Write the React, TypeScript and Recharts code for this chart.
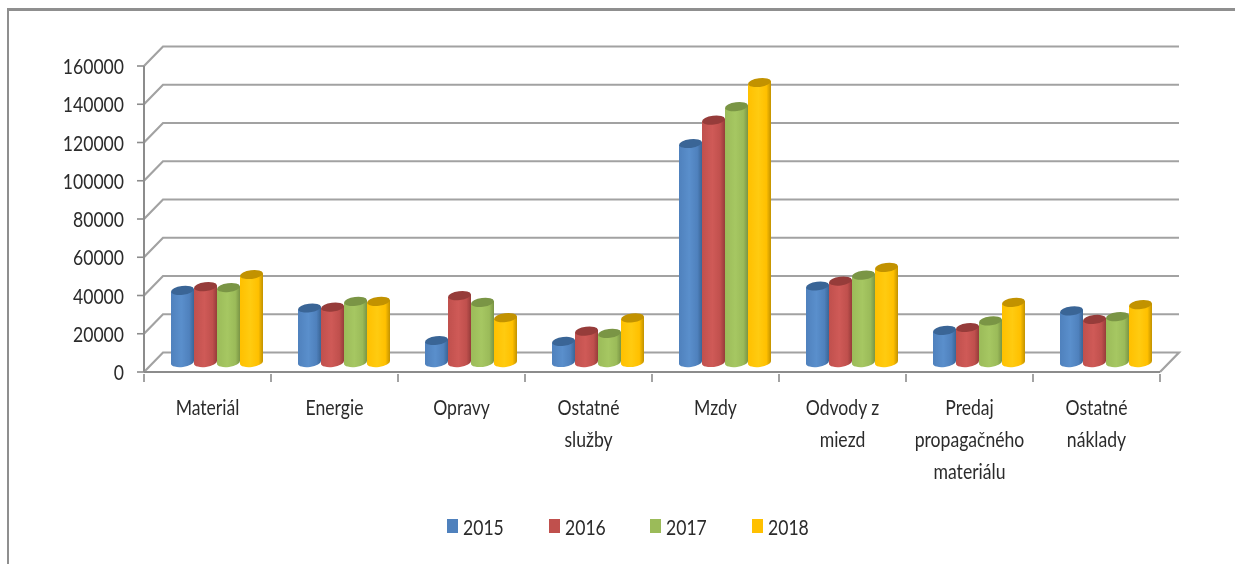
import React from "react";
import { BarChart, Bar, XAxis, YAxis, CartesianGrid, Legend } from "recharts";

const categories = ["Materiál", "Energie", "Opravy", "Ostatné služby", "Mzdy", "Odvody z miezd", "Predaj propagačného materiálu", "Ostatné náklady"];
const categoryLines = [["Materiál"], ["Energie"], ["Opravy"], ["Ostatné", "služby"], ["Mzdy"], ["Odvody z", "miezd"], ["Predaj", "propagačného", "materiálu"], ["Ostatné", "náklady"]];
const values2015 = [37700, 28500, 11500, 11000, 114500, 40000, 16800, 27000];
const values2016 = [39700, 29000, 35000, 16400, 126700, 42600, 18300, 22500];
const values2017 = [39200, 32000, 31400, 15200, 133800, 45700, 21800, 24000];
const values2018 = [46000, 32000, 23500, 23300, 146400, 49700, 31400, 30300];
const yTicks = [0, 20000, 40000, 60000, 80000, 100000, 120000, 140000, 160000];
const seriesNames = ["2015", "2016", "2017", "2018"];
const seriesColors = ["#4F81BD", "#C0504D", "#9BBB59", "#FFC000"];
const edgeColors = ["#3A6596", "#963C3A", "#7A9545", "#C29200"];
const lightColors = ["#5A8FCC", "#CF5A57", "#A6C762", "#FFCB10"];

const rows = categories.map((name, i) => ({
  name,
  s2015: values2015[i],
  s2016: values2016[i],
  s2017: values2017[i],
  s2018: values2018[i],
}));

const FONT = 'Lato, "Liberation Sans", sans-serif';
const TEXT = "#2b2b2b";
const AXIS = "#8c8c8c";
const GRID = "#a2a2a2";
const DX = 19;
const DY = -19.5;
const BAR_DX = 9;
const BAR_DY = -9.5;
const PLOT_W = 1016;
const CAT_W = PLOT_W / categories.length;
const SQUEEZE = 0.8;

function Cylinder(props: any) {
  const { x, y, width, height, index } = props;
  const si = props.seriesIndex;
  if (height == null || height <= 0) return null;
  const l = x + BAR_DX;
  const r = l + width;
  const t = y + BAR_DY;
  const b = t + height;
  const rx = width / 2;
  const ry = 4.4;
  const tilt = 1.4;
  const body = `M${l},${t + tilt} L${l},${b + tilt} A${rx},${ry} -7 0 0 ${r},${b - tilt} L${r},${t - tilt} Z`;
  return (
    <g key={index}>
      <path d={body} fill={`url(#cyl${si})`} />
      <ellipse cx={l + rx} cy={t} rx={rx} ry={ry} fill={edgeColors[si]} transform={`rotate(-7 ${l + rx} ${t})`} />
    </g>
  );
}

function SqueezedText({ x, y, anchor, size, children }: any) {
  return (
    <g transform={`translate(${x} ${y}) scale(${SQUEEZE} 1)`}>
      <text x={0} y={0} textAnchor={anchor} fontFamily={FONT} fontSize={size} fill={TEXT}>
        {children}
      </text>
    </g>
  );
}

function XTick(props: any) {
  const { x, y, index, payload } = props;
  const lines = categoryLines[index] ?? [payload.value];
  const axisY = y - 8;
  return (
    <g>
      <line x1={x - CAT_W / 2} x2={x - CAT_W / 2} y1={axisY} y2={axisY + 8} stroke={AXIS} strokeWidth={1.6} />
      {index === categories.length - 1 && (
        <line x1={x + CAT_W / 2} x2={x + CAT_W / 2} y1={axisY} y2={axisY + 8} stroke={AXIS} strokeWidth={1.6} />
      )}
      {lines.map((ln: string, i: number) => (
        <SqueezedText key={ln} x={x} y={axisY + 41 + i * 32} anchor="middle" size={22}>
          {ln}
        </SqueezedText>
      ))}
    </g>
  );
}

function YTick(props: any) {
  const { x, y, payload } = props;
  return (
    <SqueezedText x={x - 11} y={y + 8} anchor="end" size={22}>
      {payload.value}
    </SqueezedText>
  );
}

function WallLine(props: any) {
  const { x1, x2, y1 } = props;
  const isFloor = Math.abs(y1 - 364) < 1;
  const d = `M${x1},${y1} L${x1 + DX},${y1 + DY} L${x2 + DX},${y1 + DY}` + (isFloor ? ` L${x2},${y1}` : "");
  return <path key={`w${y1}`} d={d} fill="none" stroke={GRID} strokeWidth={2.2} />;
}

function LegendBox() {
  return (
    <div style={{ position: "relative", width: 420, height: 30 }}>
      {seriesNames.map((n, i) => (
        <div key={n} style={{ position: "absolute", left: i * 101.7, top: 0, display: "flex", alignItems: "center", height: 30 }}>
          <span style={{ width: 11, height: 14, background: seriesColors[i], display: "inline-block", marginRight: 5 }} />
          <span style={{ fontFamily: FONT, fontSize: 22, color: TEXT, display: "inline-block", transform: `scaleX(${SQUEEZE})`, transformOrigin: "left center" }}>{n}</span>
        </div>
      ))}
    </div>
  );
}

export default function App() {
  return (
    <>
      <div style={{ position: "fixed", left: 7, top: 8, width: 2, height: 556, background: "#8f8f8f" }} />
      <div style={{ position: "fixed", left: 7, top: 8, width: 1228, height: 2.5, background: "#8f8f8f" }} />
      <div style={{ position: "relative", width: 1227, height: 556, overflow: "hidden", filter: "blur(0.35px)" }}>
        <BarChart
          width={1227}
          height={556}
          data={rows}
          margin={{ top: 58, right: 75, bottom: 162, left: 76 }}
          barSize={23}
          barGap={0}
        >
          <defs>
            {seriesColors.map((c, i) => (
              <linearGradient key={c} id={`cyl${i}`} x1="0" y1="0" x2="1" y2="0">
                <stop offset="0%" stopColor={c} />
                <stop offset="45%" stopColor={lightColors[i]} />
                <stop offset="80%" stopColor={c} />
                <stop offset="100%" stopColor={edgeColors[i]} />
              </linearGradient>
            ))}
          </defs>
          <CartesianGrid vertical={false} horizontal={WallLine as any} syncWithTicks />
          <XAxis
            dataKey="name"
            interval={0}
            height={30}
            tick={XTick as any}
            tickLine={false}
            axisLine={{ stroke: AXIS, strokeWidth: 2 }}
            tickSize={8}
          />
          <YAxis
            width={60}
            domain={[0, 160000]}
            ticks={yTicks}
            allowDataOverflow
            tick={YTick as any}
            tickLine={{ stroke: AXIS, strokeWidth: 1.6 }}
            tickSize={7}
            axisLine={{ stroke: AXIS, strokeWidth: 2 }}
          />
          <Legend
            verticalAlign="middle"
            layout="horizontal"
            content={<LegendBox />}
            wrapperStyle={{ position: "absolute", left: 439, top: 503, width: 420, height: 30 }}
          />
          {seriesNames.map((n, i) => (
            <Bar
              key={n}
              name={n}
              dataKey={`s${n}`}
              fill={seriesColors[i]}
              isAnimationActive={false}
              shape={(p: any) => <Cylinder {...p} seriesIndex={i} />}
            />
          ))}
        </BarChart>
      </div>
    </>
  );
}
